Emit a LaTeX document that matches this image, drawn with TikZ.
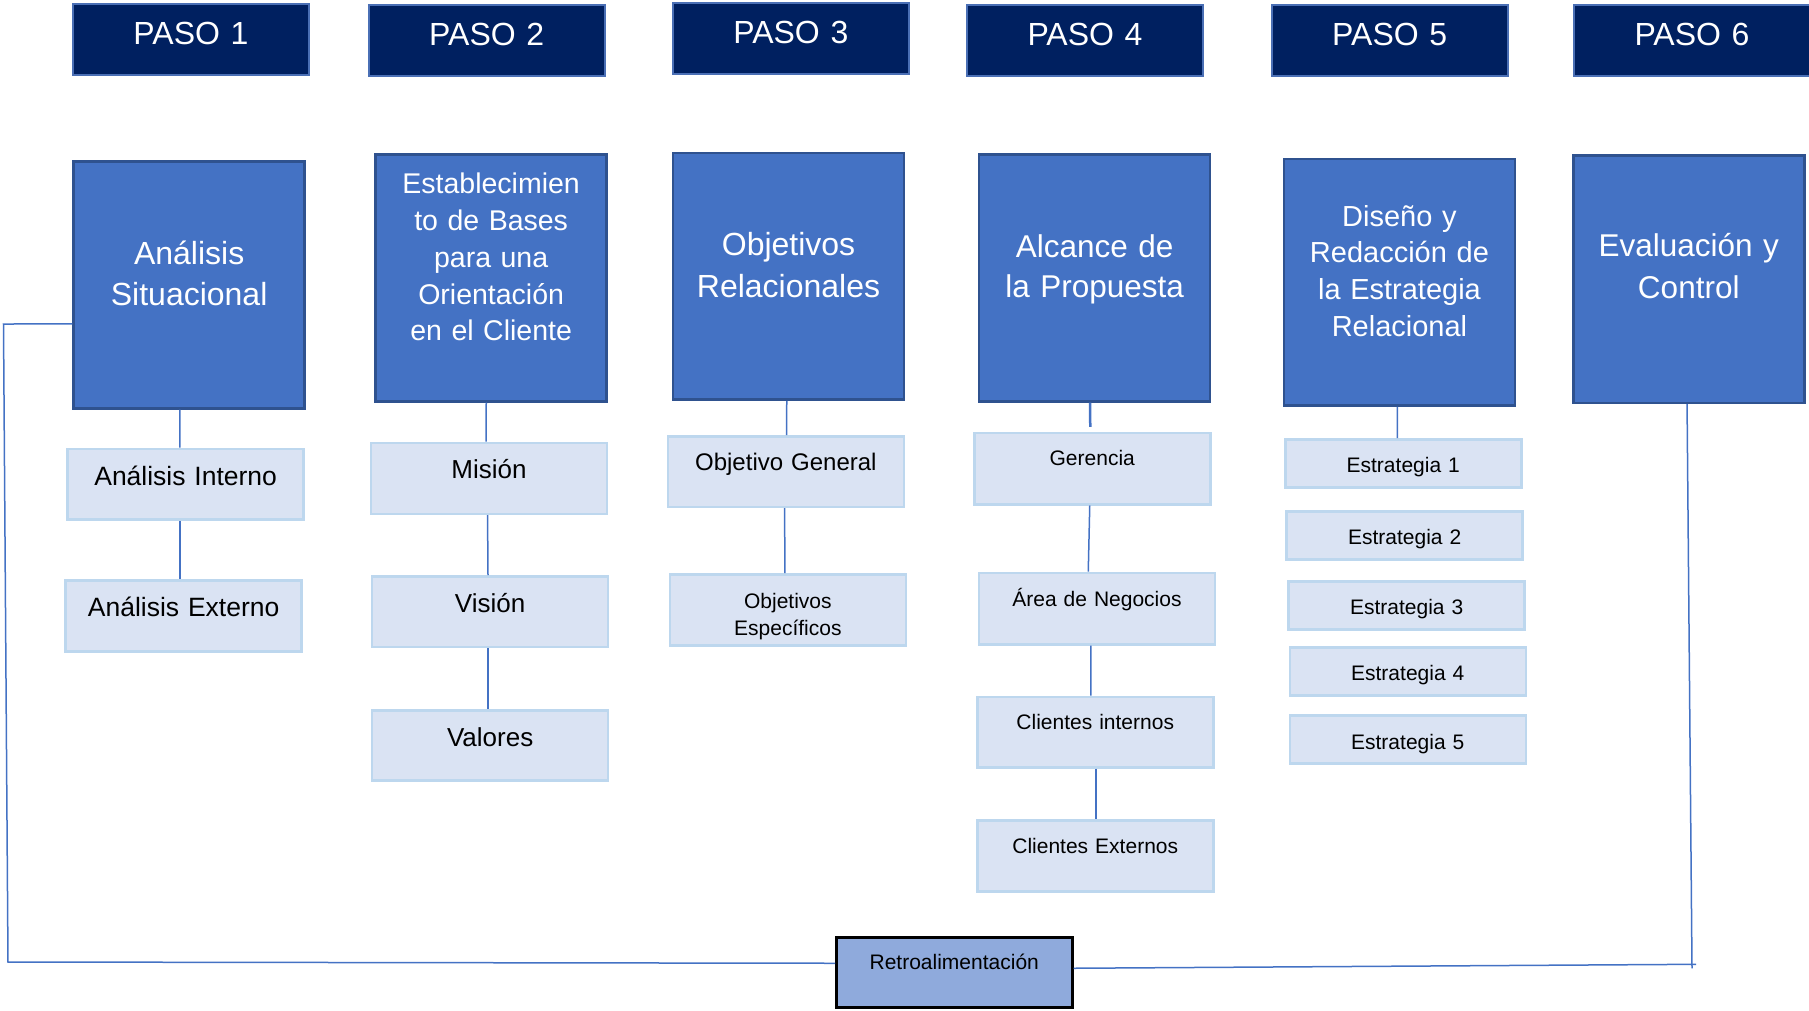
\documentclass[tikz,border=0pt]{standalone}
\usepackage{fontspec}
\setmainfont{Liberation Sans}
\usetikzlibrary{calc}
\definecolor{navy}{HTML}{002060}
\definecolor{pasoline}{HTML}{4A6FB5}
\definecolor{mainfill}{HTML}{4472C4}
\definecolor{mainline}{HTML}{2F528F}
\definecolor{subfill}{HTML}{DAE3F3}
\definecolor{subline}{HTML}{BDD7EE}
\definecolor{connblue}{HTML}{4472C4}
\definecolor{retrofill}{HTML}{8FAADC}
\begin{document}
\begin{tikzpicture}[x=1pt,y=-1pt,
 base/.style={anchor=north west, inner sep=0pt, align=center},
 tb/.style 2 args={text height=#1pt, text depth=#2pt},
 paso/.style={base, draw=pasoline, fill=navy, line width=2pt, text=white,
   font=\fontsize{32}{37}\selectfont, text width=236pt, tb={40}{31}},
 mainbox/.style={base, draw=mainline, fill=mainfill, line width=2.5pt, text=white, text width=231pt},
 subbox/.style={base, draw=subline, fill=subfill, line width=2.5pt, text=black, text width=236pt},
 strat/.style={subbox, font=\fontsize{21}{25}\selectfont},
 conn/.style={draw=connblue, line width=1.5pt},
 ]
\useasboundingbox (0,0) rectangle (1809,1010);

% PASO headers
\node[paso] (p1) at (72,3) {PASO 1};
\node[paso] (p2) at (367.7,4) {PASO 2};
\node[paso] (p3) at (671.8,2) {PASO 3};
\node[paso] (p4) at (966,4) {PASO 4};
\node[paso] (p5) at (1270.7,4) {PASO 5};
\node[paso] (p6) at (1573,4) {PASO 6};

% main boxes
\node[mainbox, font=\fontsize{32}{40.7}\selectfont, tb={103.3}{143.7}] (a1) at (72.4,160) {Análisis\\Situacional};
\node[mainbox, font=\fontsize{28.5}{36.7}\selectfont, tb={39.7}{207.3}] (a2) at (374.4,153) {Establecimien\\to de Bases\\para una\\Orientación\\en el Cliente};
\node[mainbox, font=\fontsize{32}{42}\selectfont, tb={102.3}{144.3}] (a3) at (671.8,151.7) {Objetivos\\Relacionales};
\node[mainbox, font=\fontsize{31.5}{40}\selectfont, tb={103.4}{143.3}] (a4) at (977.8,153.3) {Alcance de\\la Propuesta};
\node[mainbox, font=\fontsize{29}{36.7}\selectfont, tb={67.3}{179.3}] (a5) at (1282.7,157.7) {Diseño y\\Redacción de\\la Estrategia\\Relacional};
\node[mainbox, font=\fontsize{31.5}{42}\selectfont, tb={100.7}{146.7}] (a6) at (1572,154.3) {Evaluación y\\Control};

% column 1
\node[subbox, font=\fontsize{26.5}{31}\selectfont, tb={36.3}{34.3}] (ai) at (66.4,447.7) {Análisis Interno};
\node[subbox, font=\fontsize{26.5}{31}\selectfont, tb={36.4}{34.3}] (ae) at (64.4,579.3) {Análisis Externo};
% column 2
\node[subbox, font=\fontsize{26}{31}\selectfont, tb={36}{35}] (mi) at (369.7,441.7) {Misión};
\node[subbox, font=\fontsize{26}{31}\selectfont, tb={36.7}{34}] (vi) at (370.9,575) {Visión};
\node[subbox, font=\fontsize{26}{31}\selectfont, tb={36}{34.3}] (va) at (370.9,709) {Valores};
% column 3
\node[subbox, font=\fontsize{24}{29}\selectfont, tb={34}{36.7}] (og) at (666.6,435) {Objetivo General};
\node[subbox, font=\fontsize{21}{27}\selectfont, tb={34}{37}] (oe) at (668.6,573) {Objetivos\\Específicos};
% column 4
\node[subbox, font=\fontsize{21}{25}\selectfont, tb={32.5}{38.7}] (ge) at (973,431.8) {Gerencia};
\node[subbox, font=\fontsize{21}{25}\selectfont, tb={34.1}{37.3}] (an) at (977.7,571.6) {Área de Negocios};
\node[subbox, font=\fontsize{21}{25}\selectfont, tb={32.1}{38.2}] (ci) at (976,695.7) {Clientes internos};
\node[subbox, font=\fontsize{21}{25}\selectfont, tb={32.9}{38.1}] (ce) at (976,819) {Clientes Externos};
% column 5
\node[strat, tb={33.2}{14.8}] (e1) at (1284,438) {Estrategia 1};
\node[strat, tb={33.2}{15.2}] (e2) at (1285.4,510) {Estrategia 2};
\node[strat, tb={32.8}{15.2}] (e3) at (1287.4,580) {Estrategia 3};
\node[strat, tb={32.8}{15.2}] (e4) at (1288.5,646.4) {Estrategia 4};
\node[strat, tb={33.6}{14.4}] (e5) at (1288.5,714.4) {Estrategia 5};

% feedback box
\node[base, draw=black, fill=retrofill, line width=2.5pt, text width=236pt,
  font=\fontsize{21}{25}\selectfont, tb={32.4}{37.6}] (retro) at (835,936) {Retroalimentación};

% connectors
\draw[conn] ([xshift=-9.2pt]a1.south) -- ([xshift=-5.75pt]ai.north);
\draw[conn] ([xshift=-5.75pt]ai.south) -- ([xshift=-3.75pt]ae.north);
\draw[conn] ([xshift=-4.9pt]a2.south) -- ([xshift=-2.9pt]mi.north);
\draw[conn] ([xshift=-1.4pt]mi.south) -- ([xshift=-2.15pt]vi.north);
\draw[conn] ([xshift=-2.15pt]vi.south) -- ([xshift=-2.15pt]va.north);
\draw[conn] ([xshift=-1.8pt]a3.south) -- ([xshift=0.8pt]og.north);
\draw[conn] ([xshift=-1.2pt]og.south) -- ([xshift=-3pt]oe.north);
\draw[conn, line width=2.5pt] ([xshift=-4.4pt]a4.south) -- ([xshift=-2pt,yshift=5pt]ge.north);
\draw[conn] ([xshift=-2.5pt]ge.south) -- ([xshift=-8.7pt]an.north);
\draw[conn] ([xshift=-6.1pt]an.south) -- ([xshift=-4.4pt]ci.north);
\draw[conn] ([xshift=0.7pt]ci.south) -- ([xshift=0.7pt]ce.north);
\draw[conn] ([xshift=-2pt]a5.south) -- ([xshift=-6pt]e1.north);

% feedback loop
\coordinate (fl1) at (3.5,324);
\coordinate (fl2) at (8,962);
\coordinate (fr) at (1692,964.3);
\draw[conn] ([yshift=-39.2pt]a1.west) -- (fl1) -- (fl2) -- ([yshift=9pt]retro.west);
\draw[conn] ([xshift=-1.7pt]a6.south) -- ($(fr)+(0,4)$);
\draw[conn] ($(fr)+(4,0)$) -- ([yshift=4pt]retro.east);
\end{tikzpicture}
\end{document}
